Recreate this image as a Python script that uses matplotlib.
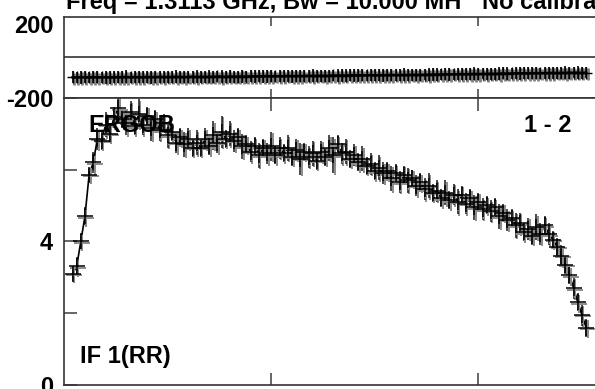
import numpy as np
import matplotlib
matplotlib.use('Agg')
import matplotlib.pyplot as plt
from matplotlib.transforms import ScaledTranslation

plt.rcParams['font.family'] = ['Liberation Sans', 'DejaVu Sans']
plt.rcParams['font.weight'] = 'bold'

TITLE = 'Freq = 1.3113 GHz, Bw = 10.000 MH'
TITLE2 = 'No calibration'
SOURCE = 'ERGOB'
BASELINE = '1 - 2'
STOKES = 'IF 1(RR)'

# channel numbers of the plotted points
chan = np.arange(8, 508, 4)

# amplitude (Jy)
amp = [3.1, 3.3, 4.0, 4.7, 5.85, 6.2, 6.85, 6.8, 7.25, 7.0,
       7.45, 7.7, 7.4, 7.3, 7.6, 7.2, 7.55, 7.25, 7.5, 7.15,
       7.4, 7.1, 7.3, 6.95, 7.05, 6.75, 6.9, 6.7, 6.85, 6.6,
       6.75, 6.6, 6.85, 6.65, 6.95, 6.75, 7.05, 6.85, 7.0, 6.8,
       6.9, 6.65, 6.7, 6.5, 6.65, 6.4, 6.6, 6.45, 6.65, 6.4,
       6.6, 6.45, 6.6, 6.35, 6.55, 6.3, 6.5, 6.35, 6.45, 6.25,
       6.5, 6.35, 6.6, 6.4, 6.7, 6.45, 6.5, 6.3, 6.4, 6.2,
       6.3, 6.1, 6.15, 5.95, 6.05, 5.9, 5.95, 5.75, 5.9, 5.65,
       5.85, 5.7, 5.75, 5.55, 5.65, 5.45, 5.55, 5.35, 5.4, 5.2,
       5.35, 5.15, 5.3, 5.1, 5.3, 5.05, 5.2, 4.95, 5.1, 4.9,
       5.0, 4.85, 4.95, 4.7, 4.8, 4.6, 4.65, 4.45, 4.5, 4.25,
       4.35, 4.15, 4.4, 4.2, 4.45, 4.2, 4.05, 3.85, 3.6, 3.35,
       3.05, 2.7, 2.3, 1.95, 1.6]

amp_err = [0.2, 0.25, 0.2, 0.25, 0.2, 0.3, 0.3, 0.25, 0.35, 0.25,
           0.3, 0.4, 0.25, 0.35, 0.3, 0.25, 0.4, 0.3, 0.25, 0.35,
           0.25, 0.3, 0.25, 0.35, 0.25, 0.3, 0.25, 0.35, 0.3, 0.25,
           0.35, 0.25, 0.3, 0.25, 0.4, 0.3, 0.45, 0.25, 0.35, 0.3,
           0.25, 0.35, 0.25, 0.3, 0.25, 0.35, 0.25, 0.3, 0.4, 0.25,
           0.3, 0.25, 0.35, 0.25, 0.3, 0.45, 0.25, 0.3, 0.35, 0.25,
           0.3, 0.25, 0.35, 0.5, 0.25, 0.3, 0.35, 0.25, 0.3, 0.25,
           0.35, 0.25, 0.3, 0.25, 0.35, 0.3, 0.25, 0.35, 0.25, 0.3,
           0.25, 0.35, 0.25, 0.3, 0.25, 0.3, 0.35, 0.25, 0.3, 0.25,
           0.35, 0.25, 0.3, 0.35, 0.25, 0.3, 0.25, 0.35, 0.25, 0.3,
           0.25, 0.3, 0.25, 0.35, 0.25, 0.3, 0.25, 0.35, 0.3, 0.25,
           0.3, 0.25, 0.35, 0.3, 0.25, 0.3, 0.25, 0.25, 0.3, 0.25,
           0.25, 0.3, 0.25, 0.3, 0.25]

# phase (degrees)
phase = [-99, -100, -98, -99, -100, -98, -99, -99, -98, -100,
         -99, -98, -99, -97, -99, -98, -98, -99, -97, -98,
         -98, -97, -98, -97, -98, -96, -97, -98, -97, -96,
         -97, -96, -97, -96, -97, -95, -96, -97, -95, -96,
         -96, -95, -96, -94, -95, -94, -95, -93, -94, -94,
         -93, -94, -92, -93, -93, -92, -93, -91, -92, -92,
         -91, -92, -91, -90, -91, -90, -91, -89, -90, -90,
         -89, -90, -88, -89, -89, -88, -89, -87, -88, -88,
         -87, -88, -86, -87, -87, -86, -86, -85, -86, -85,
         -84, -85, -84, -84, -83, -84, -83, -82, -83, -82,
         -82, -81, -82, -81, -80, -81, -80, -80, -79, -80,
         -79, -79, -78, -79, -78, -78, -77, -78, -77, -77,
         -76, -77, -76, -77, -76]

phase_err = [30, 28, 32, 30, 29, 31, 30, 28, 32, 30,
             29, 31, 30, 32, 28, 30, 31, 29, 30, 32,
             30, 28, 31, 30, 29, 32, 30, 31, 28, 30,
             32, 30, 29, 31, 30, 28, 32, 30, 31, 29,
             30, 32, 28, 30, 31, 29, 30, 32, 30, 28,
             31, 30, 29, 32, 30, 31, 28, 30, 32, 30,
             29, 31, 30, 28, 32, 30, 31, 29, 30, 32,
             30, 28, 31, 30, 29, 32, 30, 31, 28, 30,
             32, 30, 29, 31, 30, 28, 32, 30, 31, 29,
             30, 32, 28, 30, 31, 29, 30, 32, 30, 28,
             31, 30, 29, 32, 30, 31, 28, 30, 32, 30,
             29, 31, 30, 28, 32, 30, 31, 29, 30, 32,
             30, 28, 31, 30, 29]

fig = plt.figure(figsize=(5.95, 3.89), dpi=100)
ax1 = fig.add_axes([0.108, 0.7488, 1.044, 0.2082])
ax2 = fig.add_axes([0.108, 0.0103, 1.044, 0.7386])

# small offset used to draw the grey "shadow" of each cross
shadow = ScaledTranslation(1.5 / 100, -1.5 / 100, fig.dpi_scale_trans)

# phase panel
ax1.axhline(0, color='0.2', lw=1.2)
ax1.errorbar(chan, phase, yerr=phase_err, fmt='none', ecolor='0.5',
             elinewidth=2.0, capsize=0,
             transform=ax1.transData + shadow)
ax1.errorbar(chan, phase, yerr=phase_err, fmt='+', color='black',
             ecolor='0.15', elinewidth=1.4, markersize=8, capsize=0)
ax1.plot(chan, phase, color='black', lw=1.8)
ax1.set_ylim(-200, 200)
ax1.set_yticks([-200, 200])
ax1.set_yticklabels(['-200', '200'])
ax1.tick_params(axis='y', length=0, pad=8, labelsize=17)
ax1.tick_params(axis='x', direction='in', length=6.5, top=True,
                labelbottom=False, color='0.3', width=1.2)
lab = ax1.get_yticklabels()[1]
lab.set_transform(lab.get_transform() + ScaledTranslation(0, -5 / 72, fig.dpi_scale_trans))

# amplitude panel
ax2.errorbar(chan, amp, yerr=amp_err, fmt='+', color='0.55', ecolor='0.55',
             elinewidth=1.4, markersize=11, mew=1.4, capsize=0,
             transform=ax2.transData + shadow)
ax2.errorbar(chan, amp, yerr=amp_err, fmt='+', color='black',
             ecolor='0.1', elinewidth=1.1, markersize=11, mew=1.1, capsize=0)
ax2.plot(chan, amp, color='black', lw=1.2)
ax2.set_ylim(0, 8)
ax2.set_yticks([0, 2, 4, 6, 8])
ax2.set_yticklabels(['0', '', '4', '', ''])
ax2.tick_params(axis='y', direction='in', length=9, pad=8, labelsize=17,
                color='0.3', width=1.2)
ax2.tick_params(axis='x', direction='in', length=9, top=True,
                labelbottom=False, color='0.3', width=1.2)

for ax in (ax1, ax2):
    ax.set_xlim(0, 600)
    ax.set_xticks([200, 400, 600])
    for s in ax.spines.values():
        s.set_color('0.2')
        s.set_linewidth(1.2)

ax2.text(88 / 595, 1 - 131.7 / 389, SOURCE, transform=fig.transFigure,
         fontsize=17, va='baseline', ha='left')
ax2.text(572 / 595, 1 - 131.7 / 389, BASELINE, transform=fig.transFigure,
         fontsize=17, va='baseline', ha='right')
ax2.text(80 / 595, 1 - 363.3 / 389, STOKES, transform=fig.transFigure,
         fontsize=17, va='baseline', ha='left')

fig.text(66 / 595, 1 - 9.3 / 389, TITLE, fontsize=17, va='baseline')
fig.text(482 / 595, 1 - 9.3 / 389, TITLE2, fontsize=17, va='baseline')

fig.savefig('out.png', dpi=100)
